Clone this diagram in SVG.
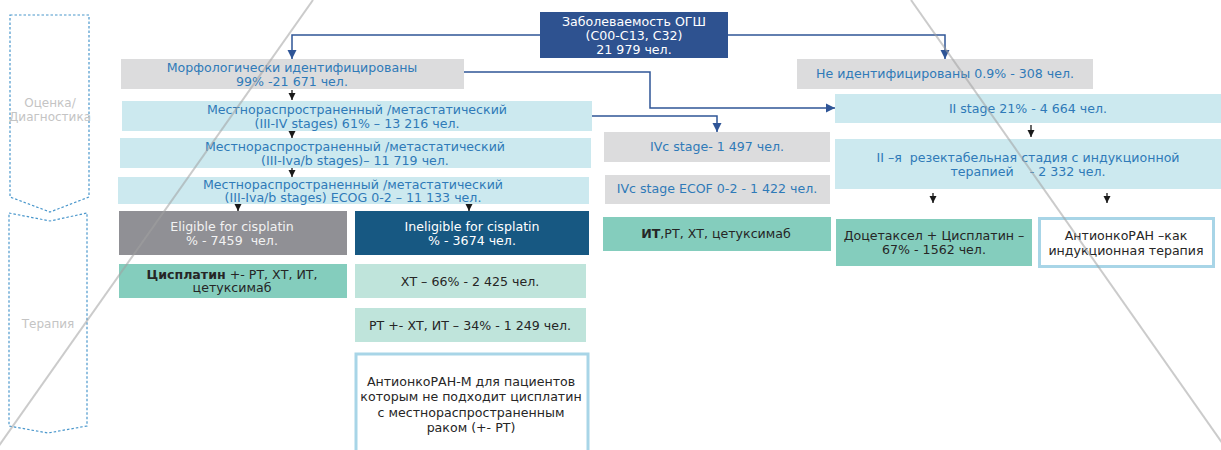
<svg xmlns="http://www.w3.org/2000/svg" width="1221" height="450" viewBox="0 0 1221 450">
<defs>
<marker id="ab" markerUnits="userSpaceOnUse" markerWidth="8" markerHeight="8" refX="7" refY="4" orient="auto"><path d="M0,0.5 L7,4 L0,7.5 z" fill="#1a1a1a"/></marker>
<marker id="abl" markerUnits="userSpaceOnUse" markerWidth="10" markerHeight="10" refX="9" refY="5" orient="auto"><path d="M0,0.5 L9,5 L0,9.5 z" fill="#2f5597"/></marker>
<style>
text{font-family:"DejaVu Sans","Verdana",sans-serif;font-size:12.6px;text-anchor:middle}
.bl{fill:#2f7ab8}
.dk{fill:#262626}
.wh{fill:#ffffff}
.lt{fill:#f2f2f2}
.side{fill:#c4c4c4;font-size:12px}
.gray{fill:#dcdcdd}
.lb{fill:#cce9ef}
.teal{fill:#84cdbd}
.lteal{fill:#bfe4db}
.wbox{fill:#ffffff;stroke:#a8d5e7;stroke-width:3}
.blue{stroke:#2f5597;stroke-width:1.5;fill:none;marker-end:url(#abl)}
.blk{stroke:#1a1a1a;stroke-width:1.3;fill:none;marker-end:url(#ab)}
.chev{fill:none;stroke:#4a97cc;stroke-width:1.2;stroke-dasharray:2.5 2}
.diag{stroke:#a0a0a0;stroke-width:2;stroke-opacity:0.55}
</style>
</defs>

<g id="phase-diagnostics">
<path class="chev" d="M10,15 L89,15 L89,197 L50,212 L10,197 Z"/>
<text class="side" x="50" y="107">Оценка/</text>
<text class="side" x="50" y="121">Диагностика</text>
</g>
<g id="phase-therapy">
<path class="chev" d="M9,213 L50,221 L87,213 L87,426 L48,433 L9,426 Z"/>
<text class="side" x="48" y="328">Терапия</text>
</g>

<g id="connectors">
<path class="blue" d="M540,35 H292 V59"/>
<path class="blue" d="M728,35 H945 V59"/>
<path class="blue" d="M464,72 H650 V108 H835"/>
<path class="blue" d="M592,116 H717 V132"/>
<path class="blk" d="M292,90 V100"/>
<path class="blk" d="M292,129 V138"/>
<path class="blk" d="M292,167 V177"/>
<path class="blk" d="M238,202 V211"/>
<path class="blk" d="M469,201 V211"/>
<path class="blk" d="M1031,125 V137"/>
<path class="blk" d="M933,193 V203"/>
<path class="blk" d="M1107,193 V203"/>
</g>

<g id="incidence">
<rect x="540" y="12" width="188" height="46" fill="#2e5290"/>
<text class="wh" x="634" y="26">Заболеваемость ОГШ</text>
<text class="wh" x="634" y="40">(C00-C13, C32)</text>
<text class="wh" x="634" y="54">21 979 чел.</text>
</g>

<g id="morph-identified">
<rect class="gray" x="121" y="59" width="343" height="30"/>
<text class="bl" x="292" y="72">Морфологически идентифицированы</text>
<text class="bl" x="292" y="86">99% -21 671 чел.</text>
</g>

<g id="not-identified">
<rect class="gray" x="797" y="59" width="296" height="30"/>
<text class="bl" x="945" y="78">Не идентифицированы 0.9% - 308 чел.</text>
</g>

<g id="stage-3-4">
<rect class="lb" x="122" y="101" width="470" height="30"/>
<text class="bl" x="357" y="114">Местнораспространенный /метастатический</text>
<text class="bl" x="357" y="128">(III-IV stages) 61% – 13 216 чел.</text>
</g>

<g id="stage-3-4ab">
<rect class="lb" x="120" y="138" width="471" height="30"/>
<text class="bl" x="355" y="151">Местнораспространенный /метастатический</text>
<text class="bl" x="355" y="165">(III-Iva/b stages)– 11 719 чел.</text>
</g>

<g id="stage-ecog">
<rect class="lb" x="118" y="177" width="471" height="27"/>
<text class="bl" x="353" y="189">Местнораспространенный /метастатический</text>
<text class="bl" x="353" y="202">(III-Iva/b stages) ECOG 0-2 – 11 133 чел.</text>
</g>

<g id="eligible">
<rect x="119" y="211" width="228" height="44" fill="#909095"/>
<text class="lt" x="232" y="231">Eligible for cisplatin</text>
<text class="lt" x="232" y="245" xml:space="preserve">% - 7459  чел.</text>
</g>

<g id="ineligible">
<rect x="355" y="211" width="234" height="44" fill="#175882"/>
<text class="wh" x="472" y="231">Ineligible for cisplatin</text>
<text class="wh" x="472" y="245">% - 3674 чел.</text>
</g>

<g id="cisplatin-therapy">
<rect class="teal" x="119" y="264" width="228" height="34"/>
<text class="dk" x="232" y="279"><tspan font-weight="bold">Цисплатин</tspan> +- РТ, ХТ, ИТ,</text>
<text class="dk" x="232" y="292">цетуксимаб</text>
</g>

<g id="xt">
<rect class="lteal" x="355" y="264" width="231" height="34"/>
<text class="dk" x="470" y="286">ХТ – 66% - 2 425 чел.</text>
</g>

<g id="rt">
<rect class="lteal" x="355" y="308" width="231" height="34"/>
<text class="dk" x="470" y="330">РТ +- ХТ, ИТ – 34% - 1 249 чел.</text>
</g>

<g id="antionkoran-m">
<rect class="wbox" x="356" y="354" width="232" height="110"/>
<text class="dk" x="471" y="386">АнтионкоРАН-М для пациентов</text>
<text class="dk" x="471" y="401">которым не подходит цисплатин</text>
<text class="dk" x="471" y="417">с местнораспространенным</text>
<text class="dk" x="471" y="432">раком (+- РТ)</text>
</g>

<g id="ivc-stage">
<rect class="gray" x="604" y="132" width="226" height="30"/>
<text class="bl" x="717" y="151">IVc stage- 1 497 чел.</text>
</g>

<g id="ivc-ecog">
<rect class="gray" x="605" y="175" width="225" height="29"/>
<text class="bl" x="717" y="193">IVc stage ECOF 0-2 - 1 422 чел.</text>
</g>

<g id="ivc-therapy">
<rect class="teal" x="603" y="217" width="228" height="34"/>
<text class="dk" x="716" y="238"><tspan font-weight="bold">ИТ</tspan>,РТ, ХТ, цетуксимаб</text>
</g>

<g id="stage-2">
<rect class="lb" x="835" y="94" width="386" height="29"/>
<text class="bl" x="1028" y="113">II stage 21% - 4 664 чел.</text>
</g>

<g id="stage-2-resectable">
<rect class="lb" x="835" y="139" width="386" height="50"/>
<text class="bl" x="1028" y="162" xml:space="preserve">II –я  резектабельная стадия с индукционной</text>
<text class="bl" x="1028" y="176" xml:space="preserve">терапией    - 2 332 чел.</text>
</g>

<g id="docetaxel">
<rect class="teal" x="836" y="219" width="196" height="47"/>
<text class="dk" x="934" y="240">Доцетаксел + Цисплатин –</text>
<text class="dk" x="934" y="254">67% - 1562 чел.</text>
</g>

<g id="antionkoran-induction">
<rect class="wbox" x="1039.5" y="218.5" width="174" height="48"/>
<text class="dk" x="1126" y="240">АнтионкоРАН –как</text>
<text class="dk" x="1126" y="255">индукционная терапия</text>
</g>

<g id="overlay-lines">
<line class="diag" x1="313" y1="0" x2="-4" y2="450"/>
<line class="diag" x1="911" y1="0" x2="1225" y2="447"/>
</g>
</svg>
